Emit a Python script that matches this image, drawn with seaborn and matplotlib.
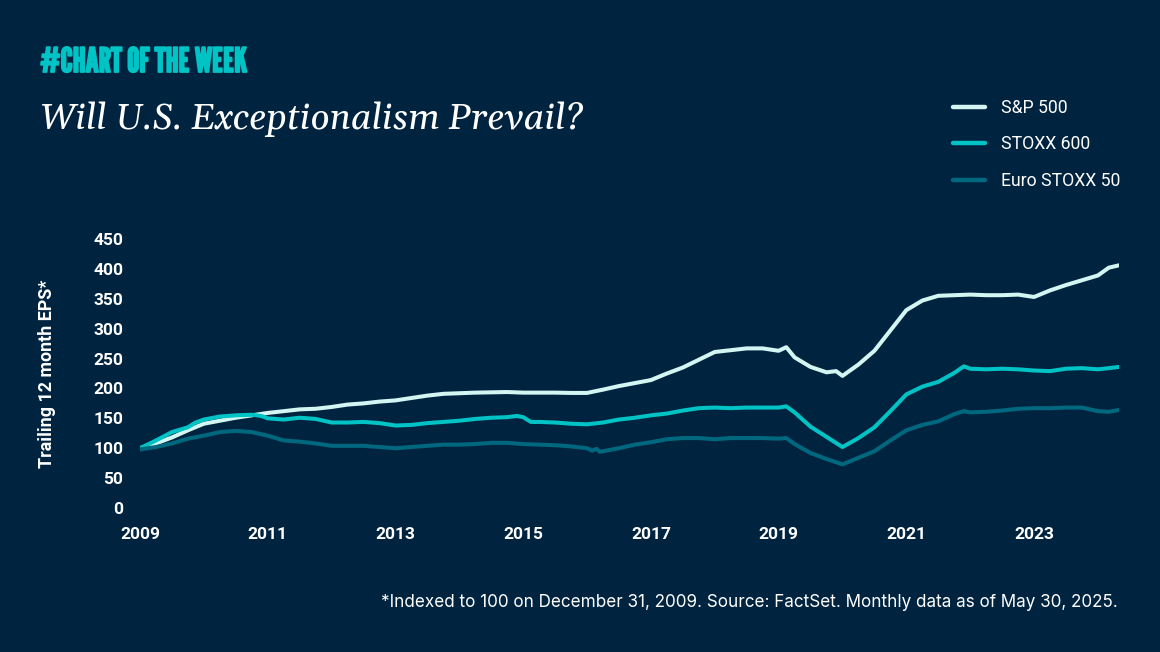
import matplotlib
matplotlib.use("Agg")
import matplotlib.pyplot as plt
import matplotlib.patheffects as pe
import seaborn as sns
import pandas as pd

# ---------------- data ----------------
sp500_dates = [2009.00, 2009.25, 2009.50, 2009.75, 2010.00, 2010.25, 2010.50, 2010.75,
               2011.00, 2011.25, 2011.50, 2011.75, 2012.00, 2012.25, 2012.50, 2012.75,
               2013.00, 2013.25, 2013.50, 2013.75, 2014.00, 2014.25, 2014.50, 2014.75,
               2015.00, 2015.25, 2015.50, 2015.75, 2016.00, 2016.25, 2016.50, 2016.75,
               2017.00, 2017.25, 2017.50, 2017.75, 2018.00, 2018.25, 2018.50, 2018.75,
               2019.00, 2019.12, 2019.25, 2019.50, 2019.75, 2019.90, 2020.00, 2020.25,
               2020.50, 2020.75, 2021.00, 2021.25, 2021.50, 2021.75, 2022.00, 2022.25,
               2022.50, 2022.75, 2023.00, 2023.25, 2023.50, 2023.75, 2024.00, 2024.17,
               2024.33]
sp500_values = [100, 108, 118, 130, 141, 146, 151, 155,
                159, 162, 165, 166, 169, 173, 175, 178,
                180, 184, 188, 191, 192, 193, 193.5, 194,
                193, 193, 193, 192.5, 192.5, 198, 204, 209,
                214, 225, 235, 248, 261, 264, 267, 267,
                263, 269, 252, 236, 227, 229, 221, 240,
                263, 297, 331, 347, 355, 356, 357, 356,
                356, 357, 353, 364, 373, 381, 389, 402,
                406]

stoxx600_dates = [2009.00, 2009.25, 2009.50, 2009.75, 2009.87, 2010.00, 2010.25, 2010.50,
                  2010.75, 2010.90, 2011.00, 2011.25, 2011.50, 2011.75, 2012.00, 2012.25,
                  2012.50, 2012.75, 2013.00, 2013.25, 2013.50, 2013.75, 2014.00, 2014.25,
                  2014.50, 2014.75, 2014.90, 2015.00, 2015.12, 2015.25, 2015.50, 2015.75,
                  2016.00, 2016.25, 2016.50, 2016.75, 2017.00, 2017.25, 2017.50, 2017.75,
                  2018.00, 2018.25, 2018.50, 2018.75, 2019.00, 2019.12, 2019.25, 2019.50,
                  2019.75, 2020.00, 2020.25, 2020.50, 2020.75, 2021.00, 2021.25, 2021.50,
                  2021.75, 2021.90, 2022.00, 2022.25, 2022.50, 2022.75, 2023.00, 2023.25,
                  2023.50, 2023.75, 2024.00, 2024.17, 2024.33]
stoxx600_values = [100, 113, 127, 135, 143, 148, 153, 155,
                   156, 154, 150, 148, 151, 149, 143, 143,
                   144, 142, 138, 139, 142, 144, 146, 149,
                   151, 152, 154, 152, 144, 144, 143, 141,
                   140, 143, 148, 151, 155, 158, 163, 167,
                   168, 167, 168, 168, 168, 170, 160, 136,
                   119, 102, 117, 135, 162, 190, 203, 211,
                   226, 237, 233, 232, 233, 232, 230, 229,
                   233, 234, 232, 234, 236]

euro50_dates = [2009.00, 2009.25, 2009.50, 2009.75, 2010.00, 2010.25, 2010.50, 2010.75,
                2011.00, 2011.25, 2011.50, 2011.75, 2012.00, 2012.25, 2012.50, 2012.75,
                2013.00, 2013.25, 2013.50, 2013.75, 2014.00, 2014.25, 2014.50, 2014.75,
                2015.00, 2015.25, 2015.50, 2015.75, 2016.00, 2016.08, 2016.15, 2016.20,
                2016.50, 2016.75, 2017.00, 2017.25, 2017.50, 2017.75, 2018.00, 2018.25,
                2018.50, 2018.75, 2019.00, 2019.12, 2019.25, 2019.50, 2019.75, 2020.00,
                2020.25, 2020.50, 2020.75, 2021.00, 2021.25, 2021.50, 2021.75, 2021.90,
                2022.00, 2022.25, 2022.50, 2022.75, 2023.00, 2023.25, 2023.50, 2023.75,
                2024.00, 2024.17, 2024.33]
euro50_values = [98, 102, 108, 116, 121, 127, 129, 127,
                 121, 113, 111, 108, 104, 104, 104, 102,
                 100, 102, 104, 106, 106, 107, 109, 109,
                 107, 106, 105, 103, 100, 96, 99, 94,
                 100, 106, 110, 115, 117, 117, 115, 117,
                 117, 117, 116, 117, 107, 92, 82, 73,
                 84, 95, 113, 130, 139, 145, 157, 162,
                 160, 161, 163, 166, 167, 167, 168, 168,
                 162, 161, 164]

series_names = ["S&P 500", "STOXX 600", "Euro STOXX 50"]
x_tick_years = [2009, 2011, 2013, 2015, 2017, 2019, 2021, 2023]
y_ticks = [0, 50, 100, 150, 200, 250, 300, 350, 400, 450]

title_text = "Will U.S. Exceptionalism Prevail?"
kicker_text = "#CHART OF THE WEEK"
ylabel_text = "Trailing 12 month EPS*"
footnote_text = "*Indexed to 100 on December 31, 2009. Source: FactSet. Monthly data as of May 30, 2025."

# ---------------- styling ----------------
BG = "#00243f"
KICKER = "#00c3c6"
colors = {"S&P 500": "#d4f6f3", "STOXX 600": "#00c3c6", "Euro STOXX 50": "#00687e"}

df = pd.concat([
    pd.DataFrame({"date": sp500_dates, "value": sp500_values, "series": series_names[0]}),
    pd.DataFrame({"date": stoxx600_dates, "value": stoxx600_values, "series": series_names[1]}),
    pd.DataFrame({"date": euro50_dates, "value": euro50_values, "series": series_names[2]}),
], ignore_index=True)

sns.set_theme(style="white")
plt.rcParams["font.family"] = ["Roboto", "DejaVu Sans"]

W, H = 1160, 652
fig = plt.figure(figsize=(W / 100, H / 100), dpi=100, facecolor=BG)
ax = fig.add_axes([140 / W, 1 - 508 / H, (1119 - 140) / W, (508 - 239) / H])
ax.set_facecolor(BG)

sns.lineplot(data=df, x="date", y="value", hue="series", hue_order=series_names,
             palette=colors, linewidth=2.9, ax=ax, sort=False)

ax.set_xlim(2009, 2024.33)
ax.set_ylim(0, 450)
ax.set_xticks(x_tick_years)
ax.set_xticklabels([str(y) for y in x_tick_years])
ax.set_yticks(y_ticks)
ax.set_yticklabels([str(v) for v in y_ticks])
for s in ax.spines.values():
    s.set_visible(False)
ax.tick_params(axis="both", length=0, colors="white", labelsize=12.5)
ax.tick_params(axis="y", pad=12)
ax.tick_params(axis="x", pad=14)
for lab in ax.get_xticklabels() + ax.get_yticklabels():
    lab.set_fontweight("bold")
ax.grid(False)
ax.set_xlabel("")
ax.set_ylabel(ylabel_text, color="white", fontsize=12.9, fontweight="bold", va="center")
ax.yaxis.set_label_coords((47 - 140) / (1119 - 140), 0.5)

leg = ax.legend(loc="upper left", bbox_to_anchor=(953 / W, 1 - 99 / H),
                bbox_transform=fig.transFigure, frameon=False, fontsize=12.7,
                handlelength=1.8, handletextpad=0.9, labelspacing=1.04,
                borderpad=0, borderaxespad=0, title=None)
for t in leg.get_texts():
    t.set_color("white")
for h in leg.get_lines():
    h.set_linewidth(3.2)

fig.text(40 / W, 1 - 72 / H, kicker_text, color=KICKER, fontsize=24.3,
         family=["League Gothic", "DejaVu Sans"], ha="left", va="baseline",
         path_effects=[pe.withStroke(linewidth=1.3, foreground=KICKER)])
fig.text(40 / W, 1 - 129 / H, title_text, color="white", fontsize=26,
         style="italic", family=["Gelasio", "DejaVu Serif"], ha="left", va="baseline")
fig.text(1118 / W, 1 - 607 / H, footnote_text, color="white", fontsize=12.3,
         family=["Inter", "Roboto"], ha="right", va="baseline")

fig.savefig("out.png", dpi=100, facecolor=BG)
